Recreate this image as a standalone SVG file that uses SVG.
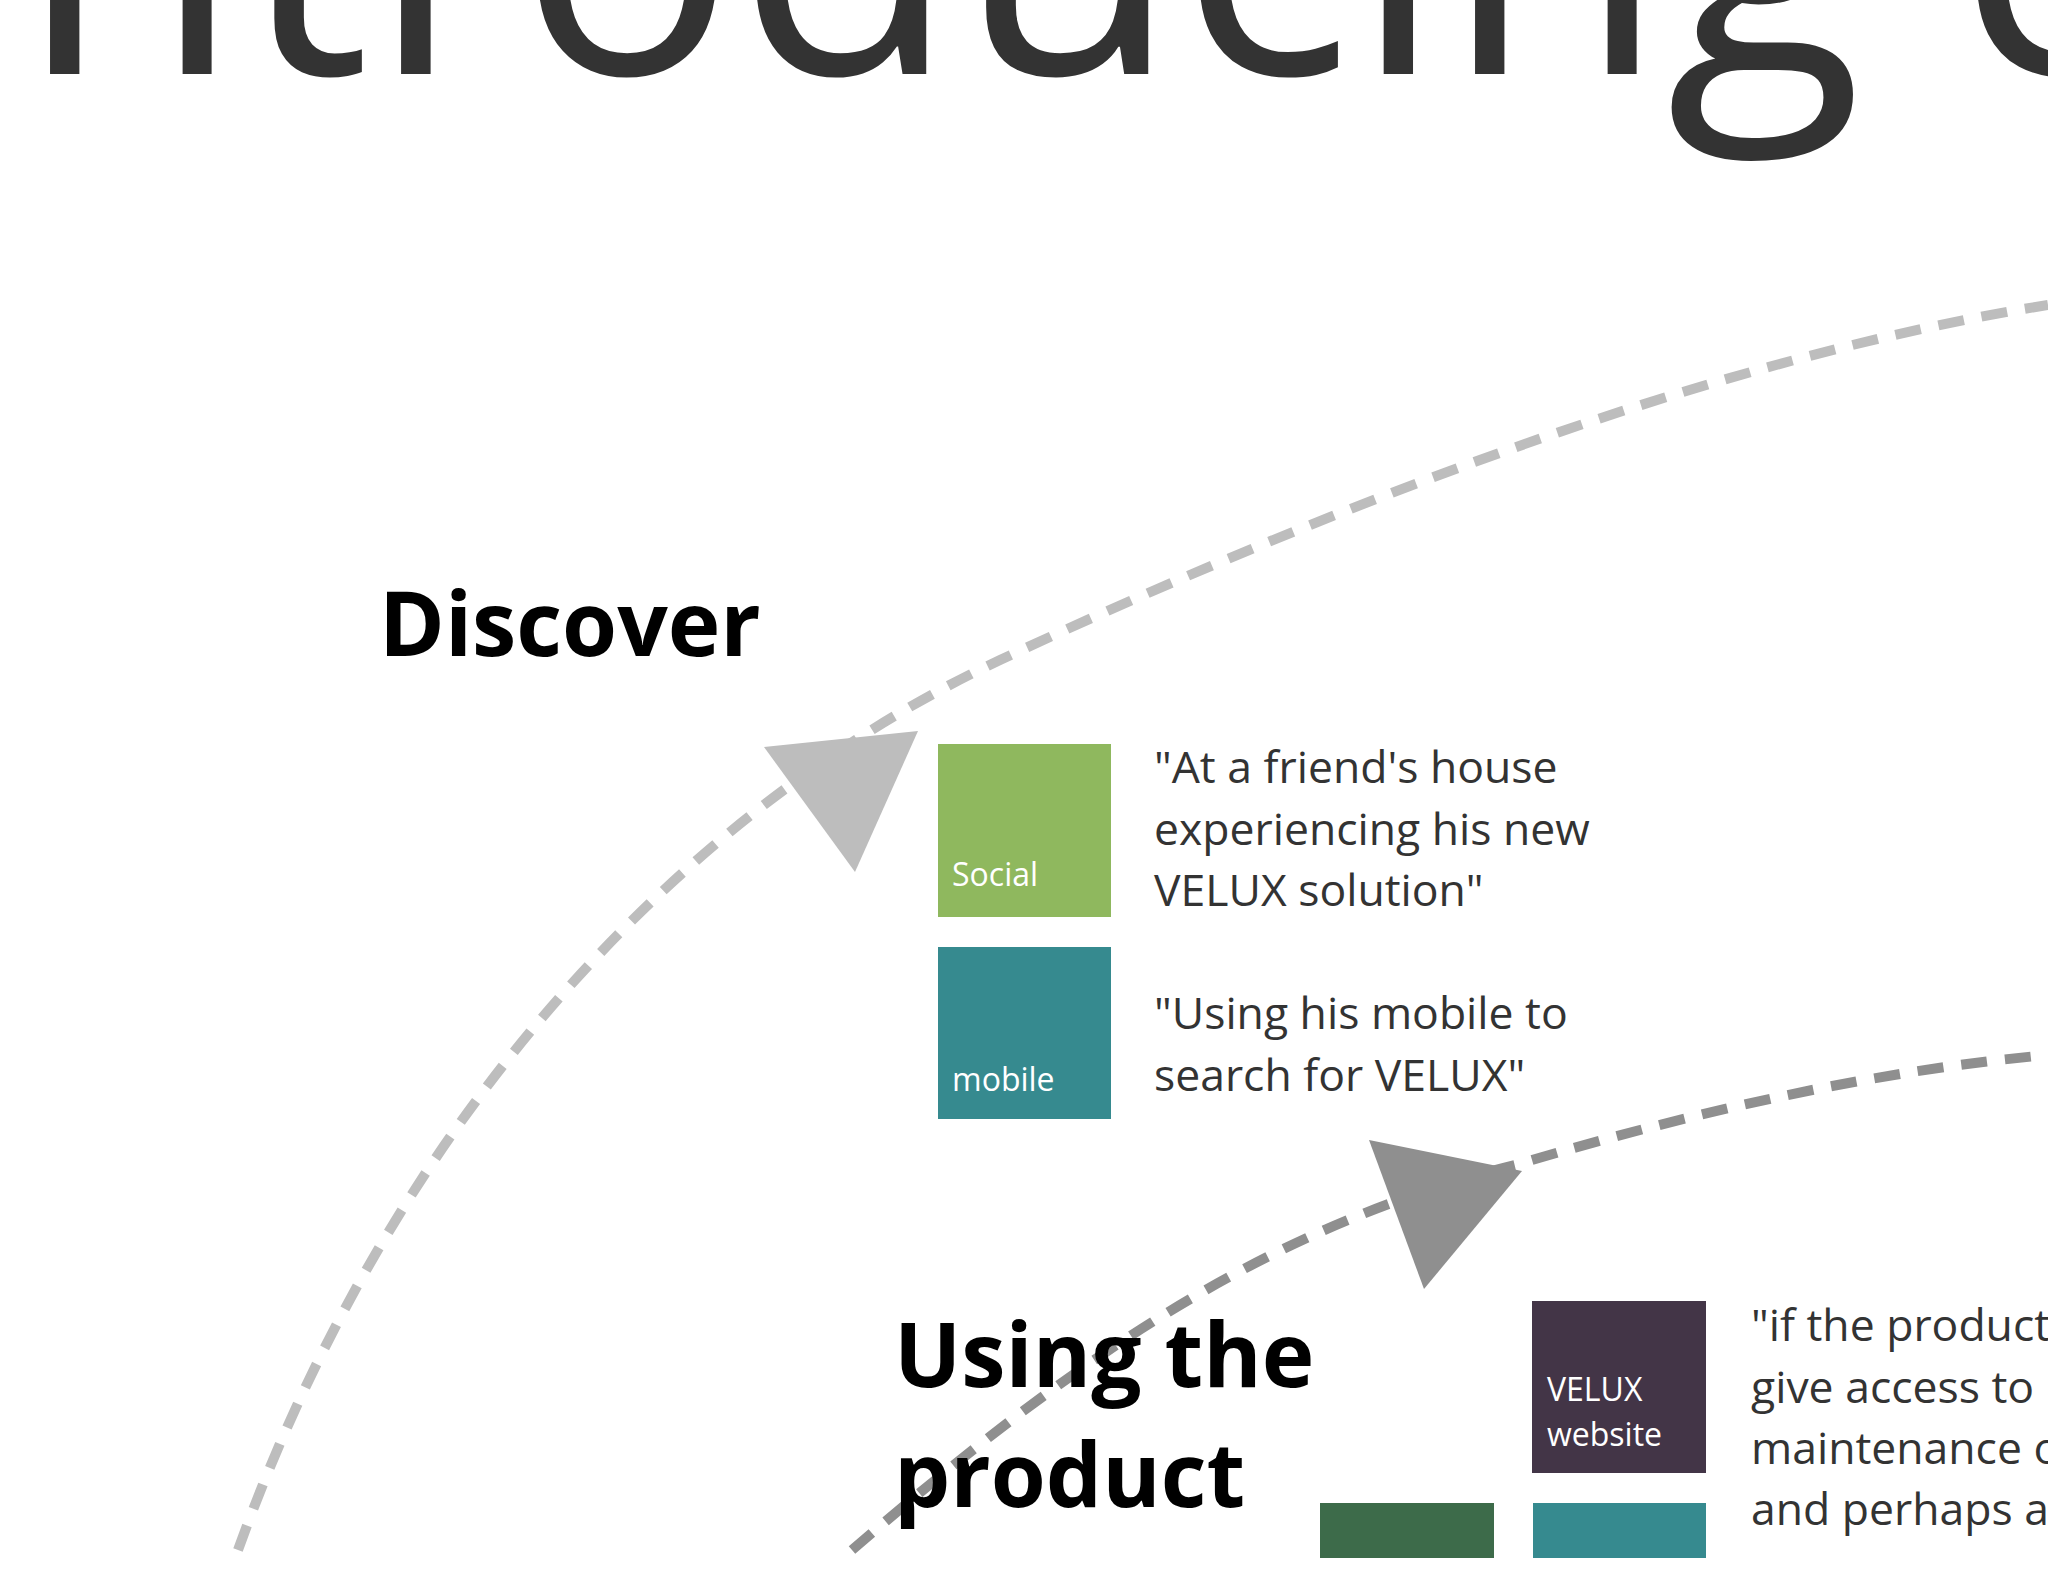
<svg xmlns="http://www.w3.org/2000/svg" width="2048" height="1582" viewBox="0 0 2048 1582">
<defs>
<style>
.t{font-family:"Open Sans","Liberation Sans",sans-serif}
.h{font-weight:bold;font-size:89px;fill:#000}
.q{font-size:44.5px;fill:#333}
.l{font-size:32px;fill:#fff}
</style>
<clipPath id="c"><rect x="0" y="0" width="2048" height="1558"/></clipPath>
</defs>
<rect width="2048" height="1582" fill="#fff"/>
<g clip-path="url(#c)">
<text class="t" x="-82" y="74" font-size="362" fill="#333">Introducing c</text>
<g id="connectors" fill="none">
<path d="M238,1550 C 400,1100 700,800 1000,660 S 1700,360 2048,305" stroke="#bdbdbd" stroke-width="10" stroke-dasharray="26 18"/>
<polygon points="764,747 918,731 855,872" fill="#bdbdbd"/>
<path d="M852,1550 C 1050,1380 1250,1230 1515,1165 C 1700,1110 1880,1070 2048,1055" stroke="#8f8f8f" stroke-width="10" stroke-dasharray="26 18"/>
<polygon points="1369,1140 1522,1171 1424,1289" fill="#8f8f8f"/>
</g>
<g id="discover"><text class="t h" x="379" y="656">Discover</text></g>
<g id="social"><rect x="938" y="744" width="173" height="173" fill="#8fb85e"/><text class="t l" x="952" y="886">Social</text></g>
<g id="social-quote"><text class="t q" x="1154" y="783">"At a friend's house</text><text class="t q" x="1154" y="845">experiencing his new</text><text class="t q" x="1154" y="906">VELUX solution"</text></g>
<g id="mobile"><rect x="938" y="947" width="173" height="172" fill="#368a8f"/><text class="t l" x="952" y="1091">mobile</text></g>
<g id="mobile-quote"><text class="t q" x="1154" y="1029">"Using his mobile to</text><text class="t q" x="1154" y="1091">search for VELUX"</text></g>
<g id="using"><text class="t h" x="894" y="1387">Using the</text><text class="t h" x="894" y="1507">product</text></g>
<g id="website"><rect x="1532" y="1301" width="174" height="172" fill="#433547"/><text class="t l" x="1547" y="1401">VELUX</text><text class="t l" x="1547" y="1446">website</text></g>
<g id="website-quote"><text class="t q" x="1751" y="1341">"if the product</text><text class="t q" x="1751" y="1403">give access to</text><text class="t q" x="1751" y="1464">maintenance o</text><text class="t q" x="1751" y="1525">and perhaps a</text></g>
<g id="green-box"><rect x="1320" y="1503" width="174" height="80" fill="#3d6b4a"/></g>
<g id="teal-box"><rect x="1533" y="1503" width="173" height="80" fill="#368a8f"/></g>
</g>
</svg>
